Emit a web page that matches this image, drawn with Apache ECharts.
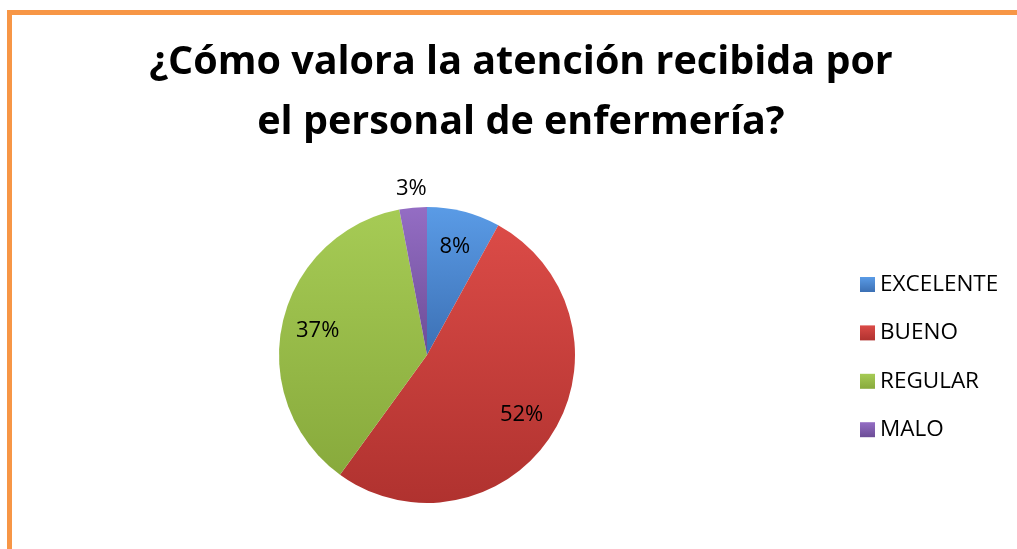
<!DOCTYPE html>
<html>
<head>
<meta charset="utf-8">
<script src="https://cdn.jsdelivr.net/npm/echarts@6/dist/echarts.min.js"></script>
<style>
html,body{margin:0;padding:0;background:#fff;}
#frame{position:absolute;left:7px;top:10px;width:1100px;height:600px;border-left:5px solid #F79646;border-top:5px solid #F79646;box-sizing:border-box;}
#chart{position:absolute;left:0;top:0;width:1017px;height:549px;}
</style>
</head>
<body>
<div id="frame"></div>
<div id="chart"></div>
<script>
const titleLines = ['¿Cómo valora la atención recibida por', 'el personal de enfermería?'];
const categories = ['EXCELENTE', 'BUENO', 'REGULAR', 'MALO'];
const values = [8, 52, 37, 3];
const colorsTop = ['#5A9BE6', '#DB4B47', '#A6CB55', '#946DC4'];
const colorsBottom = ['#3C70B4', '#B0322F', '#88AA3C', '#6C4D96'];
const legendColors = ['#4A83C9', '#C73F3C', '#98BC48', '#8160AE'];

function grad(i) {
  return new echarts.graphic.LinearGradient(0, 0, 0, 1, [
    {offset: 0, color: colorsTop[i]},
    {offset: 1, color: colorsBottom[i]}
  ]);
}

const chart = echarts.init(document.getElementById('chart'));
const pieData = categories.map((n, i) => ({name: n, value: values[i], itemStyle: {color: grad(i)}}));
const innerLabels = categories.map((n, i) => ({name: n, value: values[i], label: {show: i !== 3}}));
const outerLabels = categories.map((n, i) => ({name: n, value: values[i], label: {show: i === 3}}));
const labelStyle = {position: 'inside', formatter: '{d}%', fontFamily: 'Open Sans', fontSize: 22, color: '#000'};

chart.setOption({
  animation: false,
  color: legendColors,
  title: {
    text: titleLines.join('\n'),
    left: 516, top: 28, textAlign: 'center',
    textStyle: {fontFamily: 'Open Sans', fontWeight: 'bold', fontSize: 39.5, lineHeight: 60, color: '#000'}
  },
  legend: {
    orient: 'vertical', left: 855, top: 268,
    itemWidth: 15, itemHeight: 15, itemGap: 25.4, icon: 'rect',
    data: categories,
    textStyle: {fontFamily: 'Open Sans', fontSize: 22.5, color: '#000'}
  },
  series: [
    {
      type: 'pie', center: [427, 355], radius: [0, 148], startAngle: 90, clockwise: true,
      data: pieData, label: {show: false}, labelLine: {show: false}
    },
    {
      type: 'pie', center: [427, 355], radius: [70, 148], startAngle: 90, clockwise: true,
      silent: true, data: innerLabels, itemStyle: {color: 'rgba(0,0,0,0)'},
      label: labelStyle, labelLine: {show: false}, emphasis: {disabled: true}
    },
    {
      type: 'pie', center: [427, 355], radius: [148, 180], startAngle: 90, clockwise: true,
      silent: true, data: outerLabels, itemStyle: {color: 'rgba(0,0,0,0)'},
      label: labelStyle, labelLine: {show: false}, emphasis: {disabled: true}
    }
  ]
});
</script>
</body>
</html>
